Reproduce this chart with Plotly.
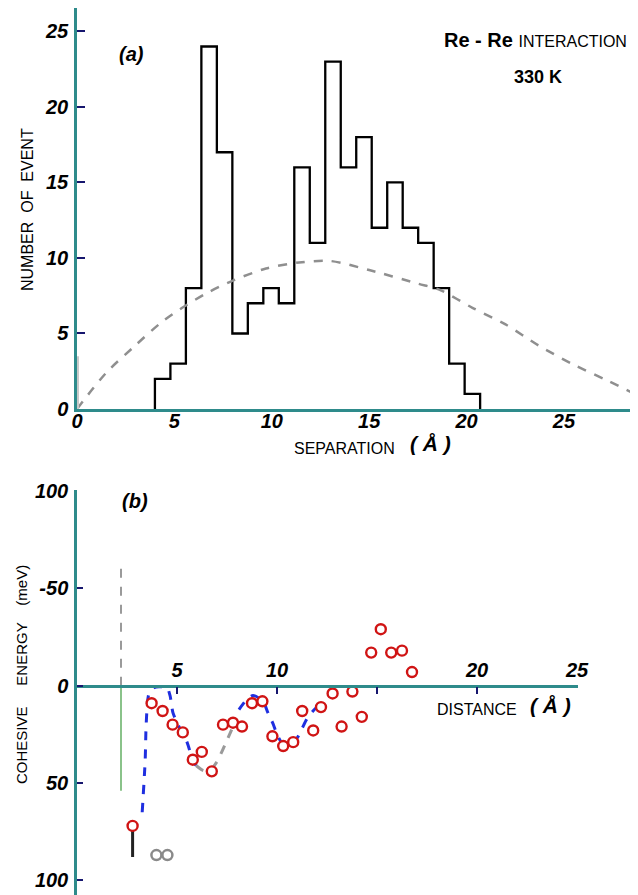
import plotly.graph_objects as go

# ---------------- data: panel (a) ----------------
bin_start = 4.0
bin_width = 0.795
event_counts = [2, 3, 8, 24, 17, 5, 7, 8, 7, 16, 11, 23, 16, 18, 12, 15, 12, 11, 8, 3, 1]

random_sep = [0, 1.5, 2.9, 4.3, 5.4, 6.7, 8.0, 9.7, 11.4, 13.0, 15.0, 17.5, 18.6,
              20.3, 22.0, 23.7, 25.4, 27.2, 28.8]
random_cnt = [0, 2.4, 4.1, 5.7, 6.7, 7.7, 8.5, 9.3, 9.7, 9.8, 9.2, 8.3, 7.9,
              6.7, 5.6, 4.2, 3.0, 1.9, 0.9]

a_xticks = [0, 5, 10, 15, 20, 25]
a_yticks = [0, 5, 10, 15, 20, 25]

# ---------------- data: panel (b) ----------------
exp_dist = [2.78, 3.73, 4.28, 4.78, 5.29, 5.79, 6.24, 6.74, 7.30, 7.80, 8.25, 8.75, 9.27,
            9.77, 10.31, 10.81, 11.26, 11.81, 12.2, 12.78, 13.23, 13.77, 14.24,
            14.71, 15.19, 15.71, 16.25, 16.75]
exp_energy = [72, 9, 13, 20, 24, 38, 34, 44, 20, 19, 21, 9, 8,
              26, 31, 29, 13, 23, 11, 4, 21, 3, 16,
              -17, -29, -17, -18, -7]

fit1_dist = [3.26, 3.41, 3.46, 3.6, 3.85, 4.1, 4.5, 4.65, 4.8, 5.1, 5.5, 5.75, 5.95]
fit1_energy = [65, 38, 19.5, 4, 1, 0.5, 1, 5, 14, 21, 29, 37, 41]
fit_gray_dist = [5.95, 6.3, 6.6, 7.0, 7.5, 7.8]
fit_gray_energy = [41, 43.5, 44, 39, 28, 21]
fit2_dist = [7.8, 8.0, 8.5, 8.8, 9.3, 9.55, 9.8, 10.0, 10.3, 10.65, 11.0, 11.25, 11.5, 11.8, 12.2]
fit2_energy = [21, 14, 7, 5, 8, 14, 19.5, 25, 30, 30, 27, 22, 17, 13, 9]

wall_dist = [2.2, 2.2]
wall_gray_energy = [-60, 0]
wall_green_energy = [0, 54]
stub_dist = [2.78, 2.78]
stub_energy = [72, 88]
gray_pts_dist = [3.97, 4.52]
gray_pts_energy = [87, 87]

b_yticks = [-100, -50, 0, 50, 100]
b_ylabels = ["100", "-50", "0", "50", "100"]
b_xticks = [5, 10, 15, 20, 25]
b_xlabels = ["5", "10", "", "20", "25"]

# ---------------- layout helpers ----------------
# The page body adds an 8px margin, so the figure is drawn 8px right/down.
OFF = 8
WIN_W, WIN_H = 638, 895
FIG_W, FIG_H = WIN_W - OFF, WIN_H - OFF
ML, MR, MT, MB = 77 - OFF, 0, 8 - OFF, 0
PW, PH = FIG_W - ML - MR, FIG_H - MT - MB


def fx(p):
    """reference-window pixel x -> paper fraction"""
    return (p - OFF - ML) / PW


def fy(p):
    """reference-window pixel y -> paper fraction"""
    return (FIG_H - MB - (p - OFF)) / PH


TEAL = "#2e8b8b"
NAVY = "#16166e"
TICKFONT = dict(family="Liberation Sans, Arial", size=20, color="black", weight="bold", style="italic")

fig = go.Figure()

# histogram outline (step)
edges = [bin_start + i * bin_width for i in range(len(event_counts) + 1)]
fig.add_trace(go.Scatter(
    x=[edges[0]] + edges[:-1] + [edges[-1]],
    y=[0] + event_counts + [0],
    mode="lines", line=dict(color="black", width=2.3, shape="hv"),
    xaxis="x", yaxis="y", hoverinfo="skip", showlegend=False))

fig.add_trace(go.Scatter(
    x=random_sep, y=random_cnt, mode="lines",
    line=dict(color="#8f8f8f", width=2.5, dash="dash", shape="spline", smoothing=0.8),
    xaxis="x", yaxis="y", showlegend=False))

fig.add_trace(go.Scatter(
    x=[0.05, 0.05], y=[0, 3.5], mode="lines",
    line=dict(color="#c8c8c8", width=2),
    xaxis="x", yaxis="y", showlegend=False))

# panel (b)
fig.add_trace(go.Scatter(
    x=wall_dist, y=wall_gray_energy, mode="lines",
    line=dict(color="#9a9a9a", width=2, dash="dash"),
    xaxis="x2", yaxis="y2", showlegend=False))
fig.add_trace(go.Scatter(
    x=wall_dist, y=wall_green_energy, mode="lines",
    line=dict(color="#3c9a3c", width=1.2),
    xaxis="x2", yaxis="y2", showlegend=False))
fig.add_trace(go.Scatter(
    x=stub_dist, y=stub_energy, mode="lines",
    line=dict(color="#222222", width=3),
    xaxis="x2", yaxis="y2", showlegend=False))
fig.add_trace(go.Scatter(
    x=gray_pts_dist, y=gray_pts_energy, mode="markers",
    marker=dict(symbol="circle-open", size=10, color="#8a8a8a", line=dict(width=2.5, color="#8a8a8a")),
    xaxis="x2", yaxis="y2", showlegend=False))

fig.add_trace(go.Scatter(
    x=fit1_dist, y=fit1_energy, mode="lines",
    line=dict(color="#1f2fe0", width=3, dash="dash", shape="spline", smoothing=0.7),
    xaxis="x2", yaxis="y2", showlegend=False))
fig.add_trace(go.Scatter(
    x=fit_gray_dist, y=fit_gray_energy, mode="lines",
    line=dict(color="#9a9a9a", width=3, dash="dash", shape="spline", smoothing=0.7),
    xaxis="x2", yaxis="y2", showlegend=False))
fig.add_trace(go.Scatter(
    x=fit2_dist, y=fit2_energy, mode="lines",
    line=dict(color="#1f2fe0", width=3, dash="dash", shape="spline", smoothing=0.7),
    xaxis="x2", yaxis="y2", showlegend=False))

fig.add_trace(go.Scatter(
    x=exp_dist, y=exp_energy, mode="markers",
    marker=dict(symbol="circle", size=10, color="white", line=dict(width=2.4, color="#d01414")),
    xaxis="x2", yaxis="y2", showlegend=False))

# axes geometry
a_dom_y = [fy(409), 1.0]
b_dom_y = [0.0, fy(490)]
b_range_y = [107.5, -100.5]
zero_frac = (b_range_y[0] - 0) / (b_range_y[0] - b_range_y[1])
b_x_pos = b_dom_y[0] + zero_frac * (b_dom_y[1] - b_dom_y[0])

fig.update_layout(
    width=FIG_W, height=FIG_H,
    margin=dict(l=ML, r=MR, t=MT, b=MB, autoexpand=False),
    paper_bgcolor="white", plot_bgcolor="white",
    showlegend=False,
    xaxis=dict(domain=[0, 1], range=[0, 28.8], anchor="y", automargin=False,
               showline=True, linecolor=TEAL, linewidth=2.5,
               showgrid=False, zeroline=False, ticks="",
               tickvals=a_xticks, tickfont=TICKFONT, ticklabelstandoff=-8),
    yaxis=dict(domain=a_dom_y, range=[0, 26.55], anchor="x", automargin=False,
               showline=True, linecolor=TEAL, linewidth=2.5,
               showgrid=False, zeroline=False,
               ticks="inside", ticklen=8, tickwidth=2, tickcolor=NAVY,
               tickvals=a_yticks, tickfont=TICKFONT, ticklabelstandoff=2),
    xaxis2=dict(domain=[0, fx(578)], range=[0, 25.05], anchor="free", position=b_x_pos,
                automargin=False,
                side="top", showline=True, linecolor=TEAL, linewidth=2.5,
                showgrid=False, zeroline=False,
                ticks="inside", ticklen=7, tickwidth=2, tickcolor=NAVY,
                tickvals=b_xticks, ticktext=b_xlabels, tickfont=TICKFONT, ticklabelstandoff=0),
    yaxis2=dict(domain=b_dom_y, range=b_range_y, anchor="x2", automargin=False,
                showline=True, linecolor=TEAL, linewidth=2.5,
                showgrid=False, zeroline=False,
                ticks="inside", ticklen=6, tickwidth=2, tickcolor=NAVY,
                tickvals=b_yticks, ticktext=b_ylabels, tickfont=TICKFONT, ticklabelstandoff=2),
)

REG = dict(family="Liberation Sans, Arial", color="black")
BI = dict(family="Liberation Sans, Arial", color="black", weight="bold", style="italic")


def ann(text, xp, yp, font, angle=0, xanchor="center"):
    fig.add_annotation(text=text, x=fx(xp), y=fy(yp), xref="paper", yref="paper",
                       showarrow=False, font=font, textangle=angle,
                       xanchor=xanchor, yanchor="middle")


ann("(a)", 131, 54, dict(BI, size=20))
ann("(b)", 135, 501, dict(BI, size=20))
ann("<b>Re - Re</b> <span style='font-size:16px'>INTERACTION</span>", 535, 40,
    dict(REG, size=20))
ann("<b>330 K</b>", 538, 77, dict(REG, size=18))
ann("NUMBER&nbsp; OF&nbsp; EVENT", 27, 210, dict(REG, size=16), angle=-90)
ann("SEPARATION", 344, 448, dict(REG, size=16))
ann("( Å )", 430, 444, dict(BI, size=21))
ann("COHESIVE&nbsp;&nbsp;&nbsp;&nbsp; ENERGY&nbsp;&nbsp;&nbsp; (meV)", 21, 675, dict(REG, size=15), angle=-90)
ann("DISTANCE", 477, 709, dict(REG, size=16))
ann("( Å )", 550, 705, dict(BI, size=21))

fig.write_html("out.html")
